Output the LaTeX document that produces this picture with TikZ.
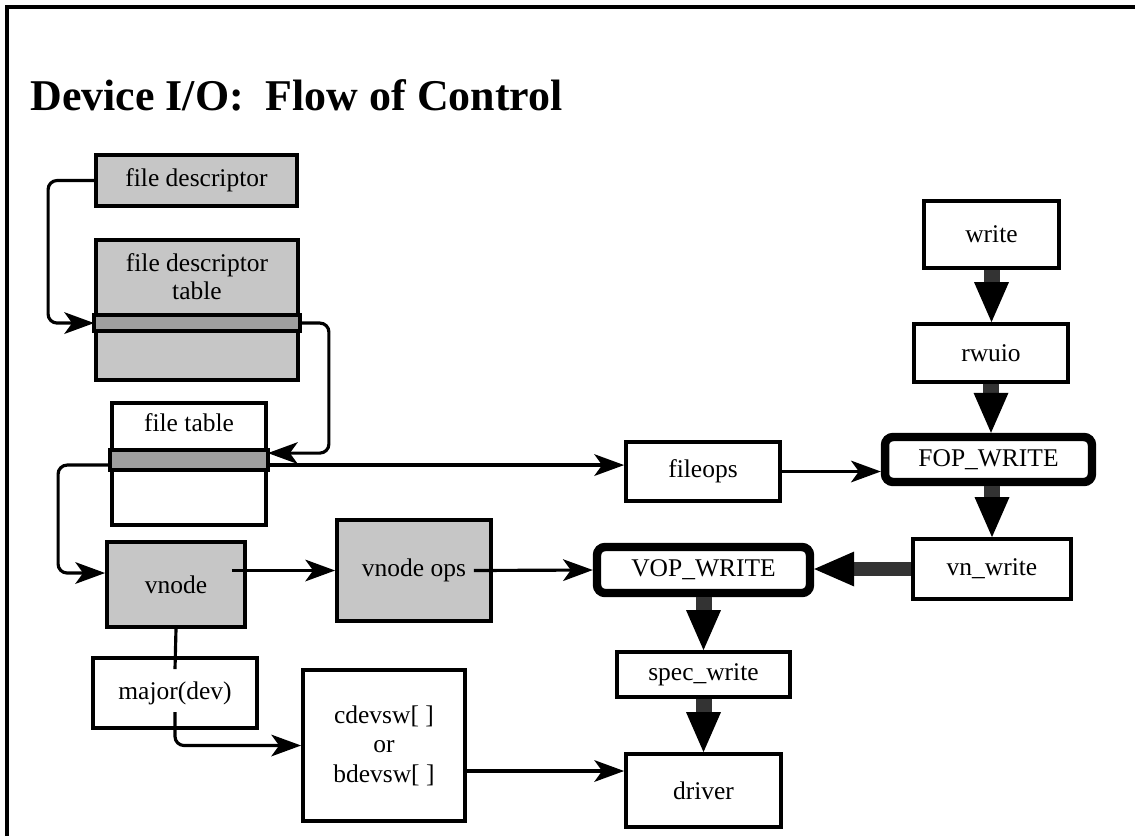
\documentclass[tikz,border=0pt]{standalone}
\usepackage{fontspec}
\setmainfont{Liberation Serif}
\usetikzlibrary{positioning,arrows.meta,calc}

\begin{document}
\begin{tikzpicture}[x=0.02cm, y=-0.02cm,
  every node/.style={font=\fontsize{14.5}{16}\selectfont, align=center, inner sep=0pt},
  box/.style={rectangle, draw, line width=2.2pt, fill=white},
  greybox/.style={box, fill=gray!45},
  callbox/.style={box, line width=4.8pt, rounded corners=0.16cm},
  slot/.style={draw, line width=2pt, fill=gray!75},
  conn/.style={line width=1.8pt, rounded corners=0.18cm, -{Stealth[length=0.6cm, width=0.44cm, inset=0.16cm, line width=0pt]}},
  flow/.style={line width=0.32cm, draw=black!80, -{Triangle[width=0.7cm, length=0.8cm, line width=0pt, color=black]}}]
  \useasboundingbox (0,0) rectangle (1135,836);
  \draw[line width=2pt] (7,836) -- (7,7) -- (1135,7);

  \node[anchor=base west, font=\fontsize{25}{30}\selectfont\bfseries] (title) at (30,110) {Device I/O:\ \ Flow of Control};

  % left side: descriptors and tables
  \node[greybox, minimum width=4.02cm, minimum height=1.02cm] (fd) at (196.5,180.5) {file descriptor};
  \node[greybox, minimum width=4.04cm, minimum height=2.8cm] (fdt) at (197,310) {};
  \draw[slot] ([yshift=-1.54cm]fdt.north west) rectangle ([yshift=-1.86cm]fdt.north east);
  \node (fdtlabel) at (197,277) {file descriptor\\table};

  \node[box, minimum width=3.08cm, minimum height=2.44cm] (ft) at (189,464) {};
  \draw[slot] ([yshift=-0.98cm]ft.north west) rectangle ([yshift=-1.38cm]ft.north east);
  \node (ftlabel) at (189,423) {file table};

  \node[greybox, minimum width=2.76cm, minimum height=1.7cm] (vnode) at (176,584.5) {vnode};
  \node[greybox, minimum width=3.08cm, minimum height=2.02cm] (vops) at (414,570.5) {vnode ops};
  \node[box, minimum width=3.28cm, minimum height=1.4cm] (major) at (175,693) {major(dev)};
  \node[box, minimum width=3.24cm, minimum height=3.02cm, font=\fontsize{14.5}{16.8}\selectfont] (cdev) at (384,745.5) {cdevsw[ ]\\or\\bdevsw[ ]};

  % right side: call chain
  \node[box, minimum width=2.7cm, minimum height=1.34cm] (write) at (991.5,234.5) {write};
  \node[box, minimum width=3.08cm, minimum height=1.16cm] (rwuio) at (991,353) {rwuio};
  \node[callbox, minimum width=4.14cm, minimum height=0.9cm] (fopw) at (988.5,459.5) {FOP\_WRITE};
  \node[box, minimum width=3.08cm, minimum height=1.18cm] (fileops) at (703,471.5) {fileops};
  \node[box, minimum width=3.16cm, minimum height=1.2cm] (vnwrite) at (992,569) {vn\_write};
  \node[callbox, minimum width=4.26cm, minimum height=0.92cm] (vopw) at (703.5,570) {VOP\_WRITE};
  \node[box, minimum width=3.46cm, minimum height=0.9cm] (specw) at (703.5,674.5) {spec\_write};
  \node[box, minimum width=3.1cm, minimum height=1.46cm] (driver) at (703.5,790.5) {driver};

  \coordinate (ftout) at ([yshift=-1.28cm]ft.north east);
  \coordinate (cdout) at ([yshift=-0.51cm]cdev.east);

  % pointers
  \draw[conn] (fd.west) -- ++(-46,0) |- ([yshift=-1.7cm]fdt.north west);
  \draw[conn] ([yshift=-1.7cm]fdt.north east) -- ++(29,0) |- ([yshift=-1.04cm]ft.north east);
  \draw[conn] ([yshift=-1.28cm]ft.north west) -- ++(-52,0) |- ([yshift=0.23cm]vnode.west);
  \draw[conn] (ftout) -- (ftout-|fileops.west);
  \draw[conn] (fileops.east) -- (fileops.east-|fopw.west);
  \draw[conn] ($(vnode.east|-vops.west)+(-15,0)$) -- (vops.west);
  \draw[conn] ($(vops.east)+(-19,0)$) -- (vopw.west);
  \draw[line width=1.8pt] (vnode.south) -- ($(major.north)+(0,13)$);
  \draw[conn] ($(major.center)+(0,19)$) |- (cdev.west);
  \draw[conn] (cdout) -- (cdout-|driver.west);

  % flow of control
  \draw[flow] (write.south) -- (write.south|-rwuio.north);
  \draw[flow] (rwuio.south) -- (rwuio.south|-fopw.north);
  \draw[flow] (vnwrite.north|-fopw.south) -- (vnwrite.north);
  \draw[flow, line width=0.27cm] (vnwrite.west) -- (vnwrite.west-|vopw.east);
  \draw[flow] (vopw.south) -- (vopw.south|-specw.north);
  \draw[flow] (specw.south) -- (specw.south|-driver.north);
\end{tikzpicture}
\end{document}
